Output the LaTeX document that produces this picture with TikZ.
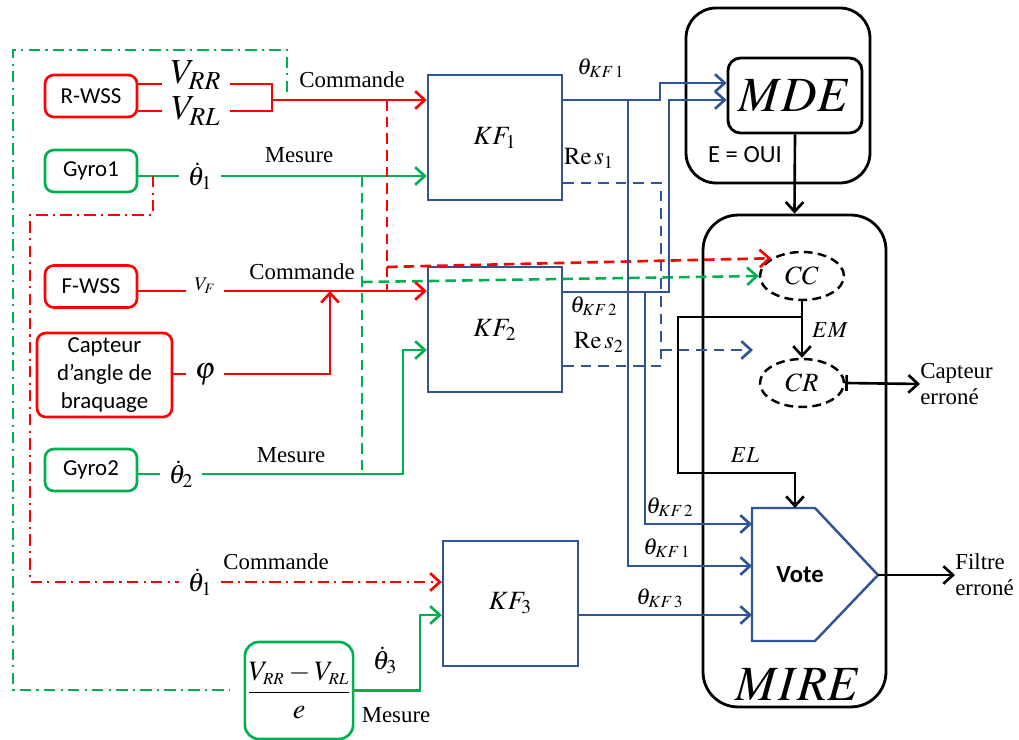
\documentclass[tikz,border=0pt]{standalone}
\usepackage{mathptmx}
\usepackage{fontspec}
\setmainfont{Liberation Serif}
\setsansfont{Carlito}
\usetikzlibrary{arrows.meta,shapes.geometric}
\definecolor{sred}{RGB}{255,0,0}
\definecolor{sgreen}{RGB}{0,176,80}
\definecolor{kfblue}{RGB}{47,85,151}

\begin{document}
\begin{tikzpicture}[
	x=0.02cm, y=-0.02cm,
	>={Straight Barb[length=5.5pt,width=10pt]},
	sensor/.style={rectangle, draw, rounded corners=5pt, line width=1.5pt, align=center, minimum width=1.84cm, minimum height=0.84cm, inner sep=1pt, font=\sffamily\fontsize{13}{16}\selectfont},
	kfbox/.style={rectangle, draw=kfblue, line width=1.4pt, minimum width=2.68cm, minimum height=2.5cm, font=\fontsize{15}{18}\selectfont},
	sig/.style={inner sep=5pt, font=\fontsize{15}{18}\selectfont},
	lbl/.style={inner sep=0pt, align=left, font=\fontsize{13}{15}\selectfont},
	rline/.style={draw=sred, line width=1.5pt},
	gline/.style={draw=sgreen, line width=1.5pt},
	bline/.style={draw=kfblue, line width=1.5pt},
	kline/.style={draw=black, line width=1.5pt},
	rdash/.style={rline, dash pattern=on 6pt off 3.5pt},
	gdash/.style={gline, dash pattern=on 6pt off 3.5pt},
	bdash/.style={bline, dash pattern=on 6pt off 4pt},
	rddot/.style={rline, dash pattern=on 6.5pt off 3pt on 1.2pt off 3pt},
	gddot/.style={gline, dash pattern=on 6.5pt off 3pt on 1.2pt off 3pt},
	detect/.style={ellipse, draw, line width=1.4pt, dash pattern=on 5pt off 3pt, minimum width=1.68cm, minimum height=0.96cm, inner sep=0pt, font=\fontsize{15}{18}\selectfont}
	]
	\useasboundingbox (0,0) rectangle (1019,740);
	
	% Capteurs
	\node[sensor, draw=sred] (rwss) at (91,96) {R-WSS};
	\node[sensor, draw=sgreen] (gyro1) at (91,171) {Gyro1};
	\node[sensor, draw=sred] (fwss) at (91,286.5) {F-WSS};
	\node[sensor, draw=sred, minimum width=2.7cm, minimum height=1.68cm] (capteur) at (104.5,375) {Capteur\\d’angle de\\braquage};
	\node[sensor, draw=sgreen] (gyro2) at (91,470) {Gyro2};
	\node[sensor, draw=sgreen, minimum width=2.16cm, minimum height=1.94cm, rounded corners=8pt, font=\fontsize{16}{19}\selectfont] (frac) at (299,690.5) {$\displaystyle\frac{V_{\scriptscriptstyle RR}-V_{\scriptscriptstyle RL}}{e}$};
	
	% Signaux
	\node[sig, anchor=base, font=\fontsize{20}{24}\selectfont] (vrr) at (196,84) {$V_{RR}$};
	\node[sig, font=\fontsize{20}{24}\selectfont] (vrl) at (196,111) {$V_{RL}$};
	\node[sig] (th1) at (200,176) {$\dot{\theta}_1$};
	\node[sig, anchor=base, font=\fontsize{11}{13}\selectfont] (vf) at (205,291) {$V_F$};
	\node[sig, font=\fontsize{17}{20}\selectfont] (phi) at (205,374) {$\varphi$};
	\node[sig] (th2) at (181,474) {$\dot{\theta}_2$};
	\node[sig] (th1b) at (200,582) {$\dot{\theta}_1$};
	\node[sig] (th3) at (385,660) {$\dot{\theta}_3$};
	
	\node[lbl] (cmd1) at (352,80) {Commande};
	\node[lbl] (mes1) at (299,155) {Mesure};
	\node[lbl] (cmd2) at (302,272) {Commande};
	\node[lbl] (mes2) at (291,455) {Mesure};
	\node[lbl] (cmd3) at (276,562) {Commande};
	\node[lbl] (mes3) at (396,715) {Mesure};
	
	% Filtres
	\node[kfbox] (kf1) at (495,137.5) {$KF_1$};
	\node[kfbox] (kf2) at (495,329.5) {$KF_2$};
	\node[kfbox, minimum width=2.7cm] (kf3) at (510.5,603.5) {$KF_3$};
	
	\node[lbl] (tk1) at (601,68) {$\theta_{KF\,1}$};
	\node[lbl, font=\fontsize{14}{16}\selectfont] (rs1) at (589,158) {$\mathrm{Re}\,s_1$};
	\node[lbl] (tk2) at (594,306) {$\theta_{KF\,2}$};
	\node[lbl, font=\fontsize{14}{16}\selectfont] (rs2) at (599,342) {$\mathrm{Re}\,s_2$};
	\node[lbl] (tk2v) at (670,507) {$\theta_{KF\,2}$};
	\node[lbl] (tk1v) at (667,548) {$\theta_{KF\,1}$};
	\node[lbl] (tk3v) at (660,598) {$\theta_{KF\,3}$};
	
	% MDE
	\node[draw, line width=1.6pt, rounded corners=0.6cm, minimum width=3.68cm, minimum height=3.5cm] (mdebox) at (778,95.5) {};
	\node[draw, line width=1.6pt, rounded corners=0.25cm, minimum width=2.68cm, minimum height=1.5cm, font=\fontsize{28}{32}\selectfont] (mde) at (795,95.5) {$MDE$};
	\node[font=\sffamily\fontsize{14}{16}\selectfont] (eoui) at (745,155) {E = OUI};
	
	% MIRE
	\node[draw, line width=1.6pt, rounded corners=0.7cm, minimum width=3.66cm, minimum height=9.84cm] (mire) at (794.5,461) {};
	\node[font=\fontsize{28}{32}\selectfont] (mirelbl) at (798,685) {$MIRE$};
	\node[detect] (cc) at (802,276) {$CC$};
	\node[detect] (cr) at (802,383) {$CR$};
	\node[lbl] (em) at (830,330) {$EM$};
	\node[lbl] (el) at (745,455) {$EL$};
	\node[lbl, anchor=west] (caperr) at (920,384) {Capteur\\erroné};
	\node[lbl, anchor=west] (filterr) at (955,575) {Filtre\\erroné};
	
	% Vote
	\coordinate (vtop) at (795,508);
	\coordinate (vtip) at (878,575);
	\coordinate (vin) at (752,575);
	\draw[bline, line width=1.4pt] (752,508) -- (815,508) -- (vtip) -- (815,641) -- (752,641) -- cycle;
	\node[font=\sffamily\bfseries\fontsize{14}{16}\selectfont] (vote) at (800,575) {Vote};
	
	% Commande KF1
	\coordinate (jr) at (272,100);
	\draw[rline] (rwss.east |- vrr.base) -- (vrr.base west);
	\draw[rline] (rwss.east |- vrl) -- (vrl);
	\draw[rline] (vrr.base east) -| (jr);
	\draw[rline] (vrl) -| (jr);
	\draw[rline,->] (jr) -- (kf1.west |- jr);
	
	% Boucle V_RR, V_RL
	\coordinate (gdd1) at (287,92);
	\coordinate (gdd2) at (230,690);
	\draw[gddot] (gdd1) -- (287,50) -- (13,50) -- (13,690) -- (gdd2);
	
	% Mesure KF1
	\draw[gline] (gyro1.east |- th1) -- (th1);
	\draw[gline,->] (th1) -- (kf1.west |- th1);
	
	% Commande KF3
	\coordinate (jg1) at (153,176);
	\draw[rddot] (jg1) |- (30,215) |- (th1b);
	\draw[rddot,->] (th1b) -- (kf3.west |- th1b);
	
	% Vers CC
	\coordinate (rd1) at (387,100);
	\coordinate (rd2) at (387,291);
	\coordinate (rd3) at (387,267);
	\draw[rdash] (rd1) -- (rd2);
	\draw[rdash,->] (rd3) -- (428,266) -- (cc.150);
	\coordinate (gd1) at (362,176);
	\coordinate (gd2) at (362,474);
	\coordinate (gd3) at (362,282);
	\draw[gdash] (gd1) -- (gd2);
	\draw[gdash,->] (gd3) -- (cc.west);
	
	% Commande KF2
	\coordinate (jphi) at (330,291);
	\draw[rline] (fwss.east |- vf.base) -- (vf.base west);
	\draw[rline,->] (vf.base east) -- (kf2.west |- vf.base);
	\draw[rline] (capteur.east |- phi) -- (phi);
	\draw[rline,->] (phi) -| (jphi);
	
	% Mesure KF2
	\coordinate (jg2) at (403,350);
	\draw[gline] (gyro2.east |- th2) -- (th2);
	\draw[gline,->] (th2) -| (jg2) -- (kf2.west |- jg2);
	
	% Mesure KF3
	\coordinate (jg3) at (420,615);
	\draw[gline,->] (frac.east) -| (jg3) -- (kf3.west |- jg3);
	
	% Sorties des filtres
	\draw[bline,->] (kf1.east |- 0,100) -- (660,100) |- (mde.west |- 0,83);
	\draw[bline,->] (628,100) |- (vin |- 0,566);
	\draw[bline,->] (kf2.east |- 0,292) -| (669,100) -- (mde.west |- 0,100);
	\draw[bline,->] (645,292) |- (vin |- 0,524);
	\draw[bline,->] (kf3.east |- 0,615) -- (vin |- 0,615);
	
	% Residus
	\draw[bdash] (kf1.east |- 0,183) -| (661,366);
	\draw[bdash] (kf2.east |- 0,366) -- (661,366);
	\coordinate (rsj) at (661,350);
	\coordinate (rsend) at (753,350);
	\draw[bdash,->] (rsj) -- (rsend);
	
	% Decision
	\coordinate (elj) at (802,317);
	\draw[kline,->] (mde.south) -- (mire.north);
	\draw[kline,->] (cc.south) -- (cr.north);
	\draw[kline,->] (elj) -- (678,317) -- (678,473) -| (vtop);
	\draw[kline,{Bar[width=9pt]}->] (cr.east) -- (caperr.west);
	\draw[kline,->] (vtip) -- (filterr.west);
	
\end{tikzpicture}
\end{document}
